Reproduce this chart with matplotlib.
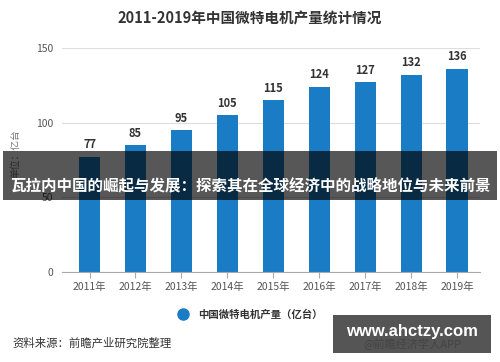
import matplotlib
matplotlib.use("Agg")
from matplotlib import pyplot as plt
from matplotlib.lines import Line2D
from matplotlib.patches import Rectangle

plt.rcParams['font.family'] = ['Noto Sans CJK SC', 'DejaVu Sans']

# 数据
years = ["2011年", "2012年", "2013年", "2014年", "2015年", "2016年", "2017年", "2018年", "2019年"]
output = [77, 85, 95, 105, 115, 124, 127, 132, 136]
yticks = [0, 50, 100, 150]

blue = "#1b7cc6"

fig = plt.figure(figsize=(5, 3.62), dpi=100)
ax = fig.add_axes([0.124, 0.2486, 0.836, 0.6188])

x = range(len(years))
bars = ax.bar(x, output, 0.46, color=blue, zorder=2)
for xi, v in zip(x, output):
    ax.annotate(str(v), (xi, v), xytext=(0, 4), textcoords="offset points",
                ha="center", va="bottom", fontsize=8, fontweight="bold", color="#333333")

ax.set_xlim(-0.6, 8.5)
ax.set_ylim(0, 150)
ax.set_yticks(yticks)
ax.set_xticks(list(x))
ax.set_xticklabels(years)
ax.grid(axis="y", color="#dddddd", linewidth=0.8, zorder=0)
for s in ["top", "right", "left"]:
    ax.spines[s].set_visible(False)
ax.spines["bottom"].set_color("#aaaaaa")
ax.tick_params(axis="y", length=0, labelsize=7.5, labelcolor="#555555", pad=6)
ax.tick_params(axis="x", length=4, color="#aaaaaa", labelsize=7.5, labelcolor="#555555", pad=3)
# 纵轴单位，大部分被横幅盖住
ax.set_ylabel("单位：亿台", fontsize=7, color="#777777", labelpad=8)
ax.yaxis.set_label_coords(-0.1, 0.53)

fig.text(0.5, 0.95, "2011-2019年中国微特电机产量统计情况", ha="center", va="center",
         fontsize=10.5, fontweight="bold", color="#333333")

# 图例
h = Line2D([], [], marker="o", linestyle="none", markersize=8, color=blue)
fig.legend([h], ["中国微特电机产量（亿台）"], loc="center", bbox_to_anchor=(0.495, 0.13),
           frameon=False, prop={"size": 7.5, "weight": "bold"}, labelcolor="#333333",
           handletextpad=0.4)

fig.text(0.024, 0.052, "资料来源：前瞻产业研究院整理", ha="left", va="center",
         fontsize=8.2, color="#333333")

# 覆盖的横幅
fig.patches.append(Rectangle((0.006, 0.4475), 0.988, 0.1355, transform=fig.transFigure,
                             facecolor="black", alpha=0.66, zorder=5))
fig.text(0.5, 0.486, "瓦拉内中国的崛起与发展：探索其在全球经济中的战略地位与未来前景",
         ha="center", va="center", fontsize=11.2, fontweight="bold", color="white", zorder=6)

# 水印
fig.patches.append(Rectangle((0.666, 0.025), 0.316, 0.105, transform=fig.transFigure,
                             facecolor="#555555", zorder=5))
fig.text(0.825, 0.048, "@前瞻经济学人APP", ha="center", va="center", fontsize=8,
         color="#444444", zorder=6)
fig.text(0.824, 0.085, "www.ahctzy.com", ha="center", va="center", fontsize=12,
         fontweight="bold", color="white", family=["Liberation Sans", "DejaVu Sans"], zorder=7)

fig.savefig("out.png", dpi=100)
